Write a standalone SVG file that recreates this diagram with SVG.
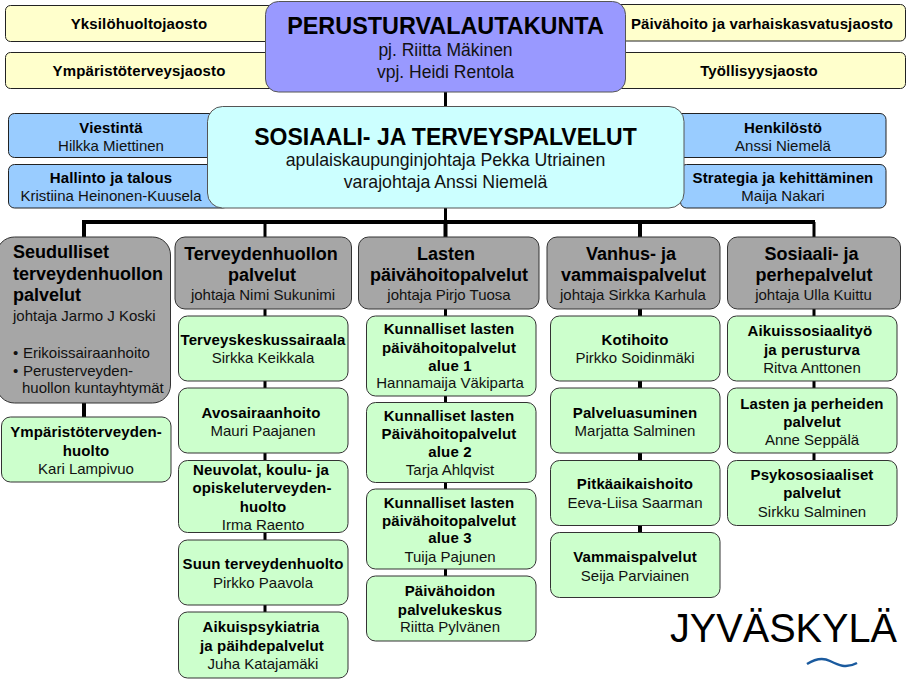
<svg xmlns="http://www.w3.org/2000/svg" width="907" height="682" viewBox="0 0 907 682">
<style>
text{font-family:"Liberation Sans",Arial,sans-serif;text-anchor:middle;fill:#000}
.b{font-weight:bold;font-size:15px;letter-spacing:.13px}
.n{font-size:15px;fill:#111}
.h{font-weight:bold;font-size:18px}
.t{font-size:17.500px;fill:#111}
.st{text-anchor:start}
.box{stroke:#222;stroke-width:1}
.y{fill:#ffffcc}.l{fill:#99ccff}.g{fill:#ccffcc;stroke:#333}.s{fill:#a6a6a6;stroke:#333}
.c{stroke:#000;fill:none}
</style>
<rect width="907" height="682" fill="#fff"/>
<g id="connectors" class="c">
<path d="M445.500 90V224" stroke-width="3"/>
<path d="M82 222H815" stroke-width="4"/>
<path d="M84 222V238M445.500 222V238M640 222V238" stroke-width="4"/>
<path d="M265 222V238M814 222V238" stroke-width="3"/>
<path d="M84 400V418" stroke-width="4"/>
<path d="M265 305V317M265 380V390M265 450V462M265 530V542M265 600V614" stroke-width="3"/>
<path d="M445.500 305V317M445.500 395V404M445.500 480V491M445.500 568V578" stroke-width="3"/>
<path d="M640 305V317M640 380V390M640 450V462M640 525V535" stroke-width="4"/>
<path d="M814 305V317M814 380V390M814 452V462" stroke-width="3"/>
</g>
<g id="n1"><rect class="box y" x="5.500" y="5.500" width="270" height="36" rx="5"/><text class="b" x="139" y="29">Yksilöhuoltojaosto</text></g>
<g id="n2"><rect class="box y" x="5.500" y="52.500" width="270" height="36" rx="5"/><text class="b" x="139" y="76">Ympäristöterveysjaosto</text></g>
<g id="n3"><rect class="box y" x="615.500" y="4.500" width="290" height="36.500" rx="5"/><text class="b" x="762" y="29">Päivähoito ja varhaiskasvatusjaosto</text></g>
<g id="n4"><rect class="box y" x="615.500" y="52.500" width="290" height="36" rx="5"/><text class="b" x="759" y="76">Työllisyysjaosto</text></g>
<g id="n5"><rect x="265.500" y="1.500" width="360" height="90.500" rx="13" fill="#9999ff" stroke="#555"/><text x="445.500" y="34" font-weight="bold" font-size="23.400">PERUSTURVALAUTAKUNTA</text><text class="t" x="445.500" y="56">pj. Riitta Mäkinen</text><text class="t" x="445.500" y="78">vpj. Heidi Rentola</text></g>
<g id="n6"><rect class="box l" x="8.500" y="113.500" width="220" height="44" rx="6"/><text class="b" x="111" y="133">Viestintä</text><text class="n" x="111" y="151">Hilkka Miettinen</text></g>
<g id="n7"><rect class="box l" x="8.500" y="164.500" width="220" height="43.500" rx="6"/><text class="b" x="111" y="183">Hallinto ja talous</text><text class="n" x="111" y="201">Kristiina Heinonen-Kuusela</text></g>
<g id="n8"><rect class="box l" x="670.500" y="113.500" width="215.500" height="44" rx="6"/><text class="b" x="783" y="133">Henkilöstö</text><text class="n" x="783" y="151">Anssi Niemelä</text></g>
<g id="n9"><rect class="box l" x="680.500" y="164.500" width="205.500" height="43.500" rx="6"/><text class="b" x="783" y="183">Strategia ja kehittäminen</text><text class="n" x="783" y="201">Maija Nakari</text></g>
<g id="n10"><rect x="207.500" y="106.500" width="476.500" height="101.500" rx="15" fill="#ccffff" stroke="#555"/><text x="445.500" y="145" font-weight="bold" font-size="23">SOSIAALI- JA TERVEYSPALVELUT</text><text class="t" x="445.500" y="166" style="font-size:17.700px">apulaiskaupunginjohtaja Pekka Utriainen</text><text class="t" x="445.500" y="188" style="font-size:17.700px">varajohtaja Anssi Niemelä</text></g>
<g id="n11"><rect class="s" x="-3.500" y="237" width="174" height="166" rx="18"/><text class="h st" x="13" y="258">Seudulliset</text><text class="h st" x="13" y="280">terveydenhuollon</text><text class="h st" x="13" y="301">palvelut</text><text class="n st" x="13" y="321">johtaja Jarmo J Koski</text><text class="n st" x="13" y="358">•</text><text class="n st" x="23" y="358">Erikoissairaanhoito</text><text class="n st" x="13" y="376">•</text><text class="n st" x="23" y="376">Perusterveyden-</text><text class="n st" x="22" y="393">huollon kuntayhtymät</text></g>
<g id="n12"><rect class="s" x="175" y="237" width="176.500" height="72" rx="10"/><text class="h" x="261" y="260">Terveydenhuollon</text><text class="h" x="262" y="281">palvelut</text><text class="n" x="263" y="300">johtaja Nimi Sukunimi</text></g>
<g id="n13"><rect class="s" x="358.500" y="237" width="180.500" height="72" rx="10"/><text class="h" x="446" y="260">Lasten</text><text class="h" x="449" y="281">päivähoitopalvelut</text><text class="n" x="449" y="300">johtaja Pirjo Tuosa</text></g>
<g id="n14"><rect class="s" x="547" y="237" width="173" height="72" rx="10"/><text class="h" x="631" y="260">Vanhus- ja</text><text class="h" x="633.500" y="281">vammaispalvelut</text><text class="n" x="633" y="300">johtaja Sirkka Karhula</text></g>
<g id="n15"><rect class="s" x="727.500" y="237" width="173" height="72" rx="10"/><text class="h" x="811.500" y="260">Sosiaali- ja</text><text class="h" x="814" y="281">perhepalvelut</text><text class="n" x="813.500" y="300">johtaja Ulla Kuittu</text></g>
<g id="n16"><rect class="box g" x="1.500" y="417" width="169.500" height="65" rx="9"/><text class="b" x="86" y="437">Ympäristöterveyden-</text><text class="b" x="86" y="456">huolto</text><text class="n" x="86" y="474">Kari Lampivuo</text></g>
<g id="n17"><rect class="box g" x="178.500" y="316" width="169.500" height="65" rx="9"/><text class="b" x="263" y="345">Terveyskeskussairaala</text><text class="n" x="263" y="363">Sirkka Keikkala</text></g>
<g id="n18"><rect class="box g" x="178.500" y="388" width="169.500" height="65" rx="9"/><text class="b" x="261" y="418">Avosairaanhoito</text><text class="n" x="263" y="436">Mauri Paajanen</text></g>
<g id="n19"><rect class="box g" x="178.500" y="460.500" width="169.500" height="72" rx="9"/><text class="b" x="261" y="475">Neuvolat, koulu- ja</text><text class="b" x="262" y="493">opiskeluterveyden-</text><text class="b" x="263" y="512">huolto</text><text class="n" x="263" y="530">Irma Raento</text></g>
<g id="n20"><rect class="box g" x="178.500" y="540" width="169.500" height="65" rx="9"/><text class="b" x="263" y="569">Suun terveydenhuolto</text><text class="n" x="263" y="588">Pirkko Paavola</text></g>
<g id="n21"><rect class="box g" x="178.500" y="612" width="169.500" height="66" rx="9"/><text class="b" x="261" y="632">Aikuispsykiatria</text><text class="b" x="262" y="651">ja päihdepalvelut</text><text class="n" x="263" y="669">Juha Katajamäki</text></g>
<g id="n22"><rect class="box g" x="366.500" y="316" width="169.500" height="80" rx="9"/><text class="b" x="449" y="334">Kunnalliset lasten</text><text class="b" x="449" y="353">päivähoitopalvelut</text><text class="b" x="450" y="371">alue 1</text><text class="n" x="450" y="388">Hannamaija Väkiparta</text></g>
<g id="n23"><rect class="box g" x="366.500" y="402.500" width="169.500" height="80" rx="9"/><text class="b" x="449" y="421">Kunnalliset lasten</text><text class="b" x="449" y="439">Päivähoitopalvelut</text><text class="b" x="450" y="457">alue 2</text><text class="n" x="450" y="475">Tarja Ahlqvist</text></g>
<g id="n24"><rect class="box g" x="366.500" y="489" width="169.500" height="80" rx="9"/><text class="b" x="449" y="508">Kunnalliset lasten</text><text class="b" x="449" y="526">päivähoitopalvelut</text><text class="b" x="450" y="543">alue 3</text><text class="n" x="450" y="562">Tuija Pajunen</text></g>
<g id="n25"><rect class="box g" x="366.500" y="576" width="169.500" height="65" rx="9"/><text class="b" x="450" y="596">Päivähoidon</text><text class="b" x="450" y="615">palvelukeskus</text><text class="n" x="450" y="632">Riitta Pylvänen</text></g>
<g id="n26"><rect class="box g" x="550.500" y="316" width="169.500" height="65" rx="9"/><text class="b" x="635" y="345">Kotihoito</text><text class="n" x="635" y="363">Pirkko Soidinmäki</text></g>
<g id="n27"><rect class="box g" x="550.500" y="388" width="169.500" height="65" rx="9"/><text class="b" x="635" y="418">Palveluasuminen</text><text class="n" x="635" y="436">Marjatta Salminen</text></g>
<g id="n28"><rect class="box g" x="550.500" y="460.500" width="169.500" height="65" rx="9"/><text class="b" x="635" y="489">Pitkäaikaishoito</text><text class="n" x="635" y="508">Eeva-Liisa Saarman</text></g>
<g id="n29"><rect class="box g" x="550.500" y="532.500" width="169.500" height="65" rx="9"/><text class="b" x="635" y="562">Vammaispalvelut</text><text class="n" x="635" y="581">Seija Parviainen</text></g>
<g id="n30"><rect class="box g" x="727.500" y="316" width="169.500" height="65" rx="9"/><text class="b" x="810" y="336">Aikuissosiaalityö</text><text class="b" x="812" y="355">ja perusturva</text><text class="n" x="812" y="373">Ritva Anttonen</text></g>
<g id="n31"><rect class="box g" x="727.500" y="388" width="169.500" height="65" rx="9"/><text class="b" x="812" y="409">Lasten ja perheiden</text><text class="b" x="812" y="427">palvelut</text><text class="n" x="812" y="445">Anne Seppälä</text></g>
<g id="n32"><rect class="box g" x="727.500" y="460.500" width="169.500" height="65" rx="9"/><text class="b" x="812" y="480">Psykososiaaliset</text><text class="b" x="812" y="498">palvelut</text><text class="n" x="812" y="517">Sirkku Salminen</text></g>
<g id="logo"><text x="783.500" y="642" font-size="40" fill="#111" textLength="227" lengthAdjust="spacingAndGlyphs">JYVÄSKYLÄ</text><path d="M807 664C815 659 822 657 830 661S846 669 857 663" fill="none" stroke="#1a5a9e" stroke-width="2.500"/></g>
</svg>
